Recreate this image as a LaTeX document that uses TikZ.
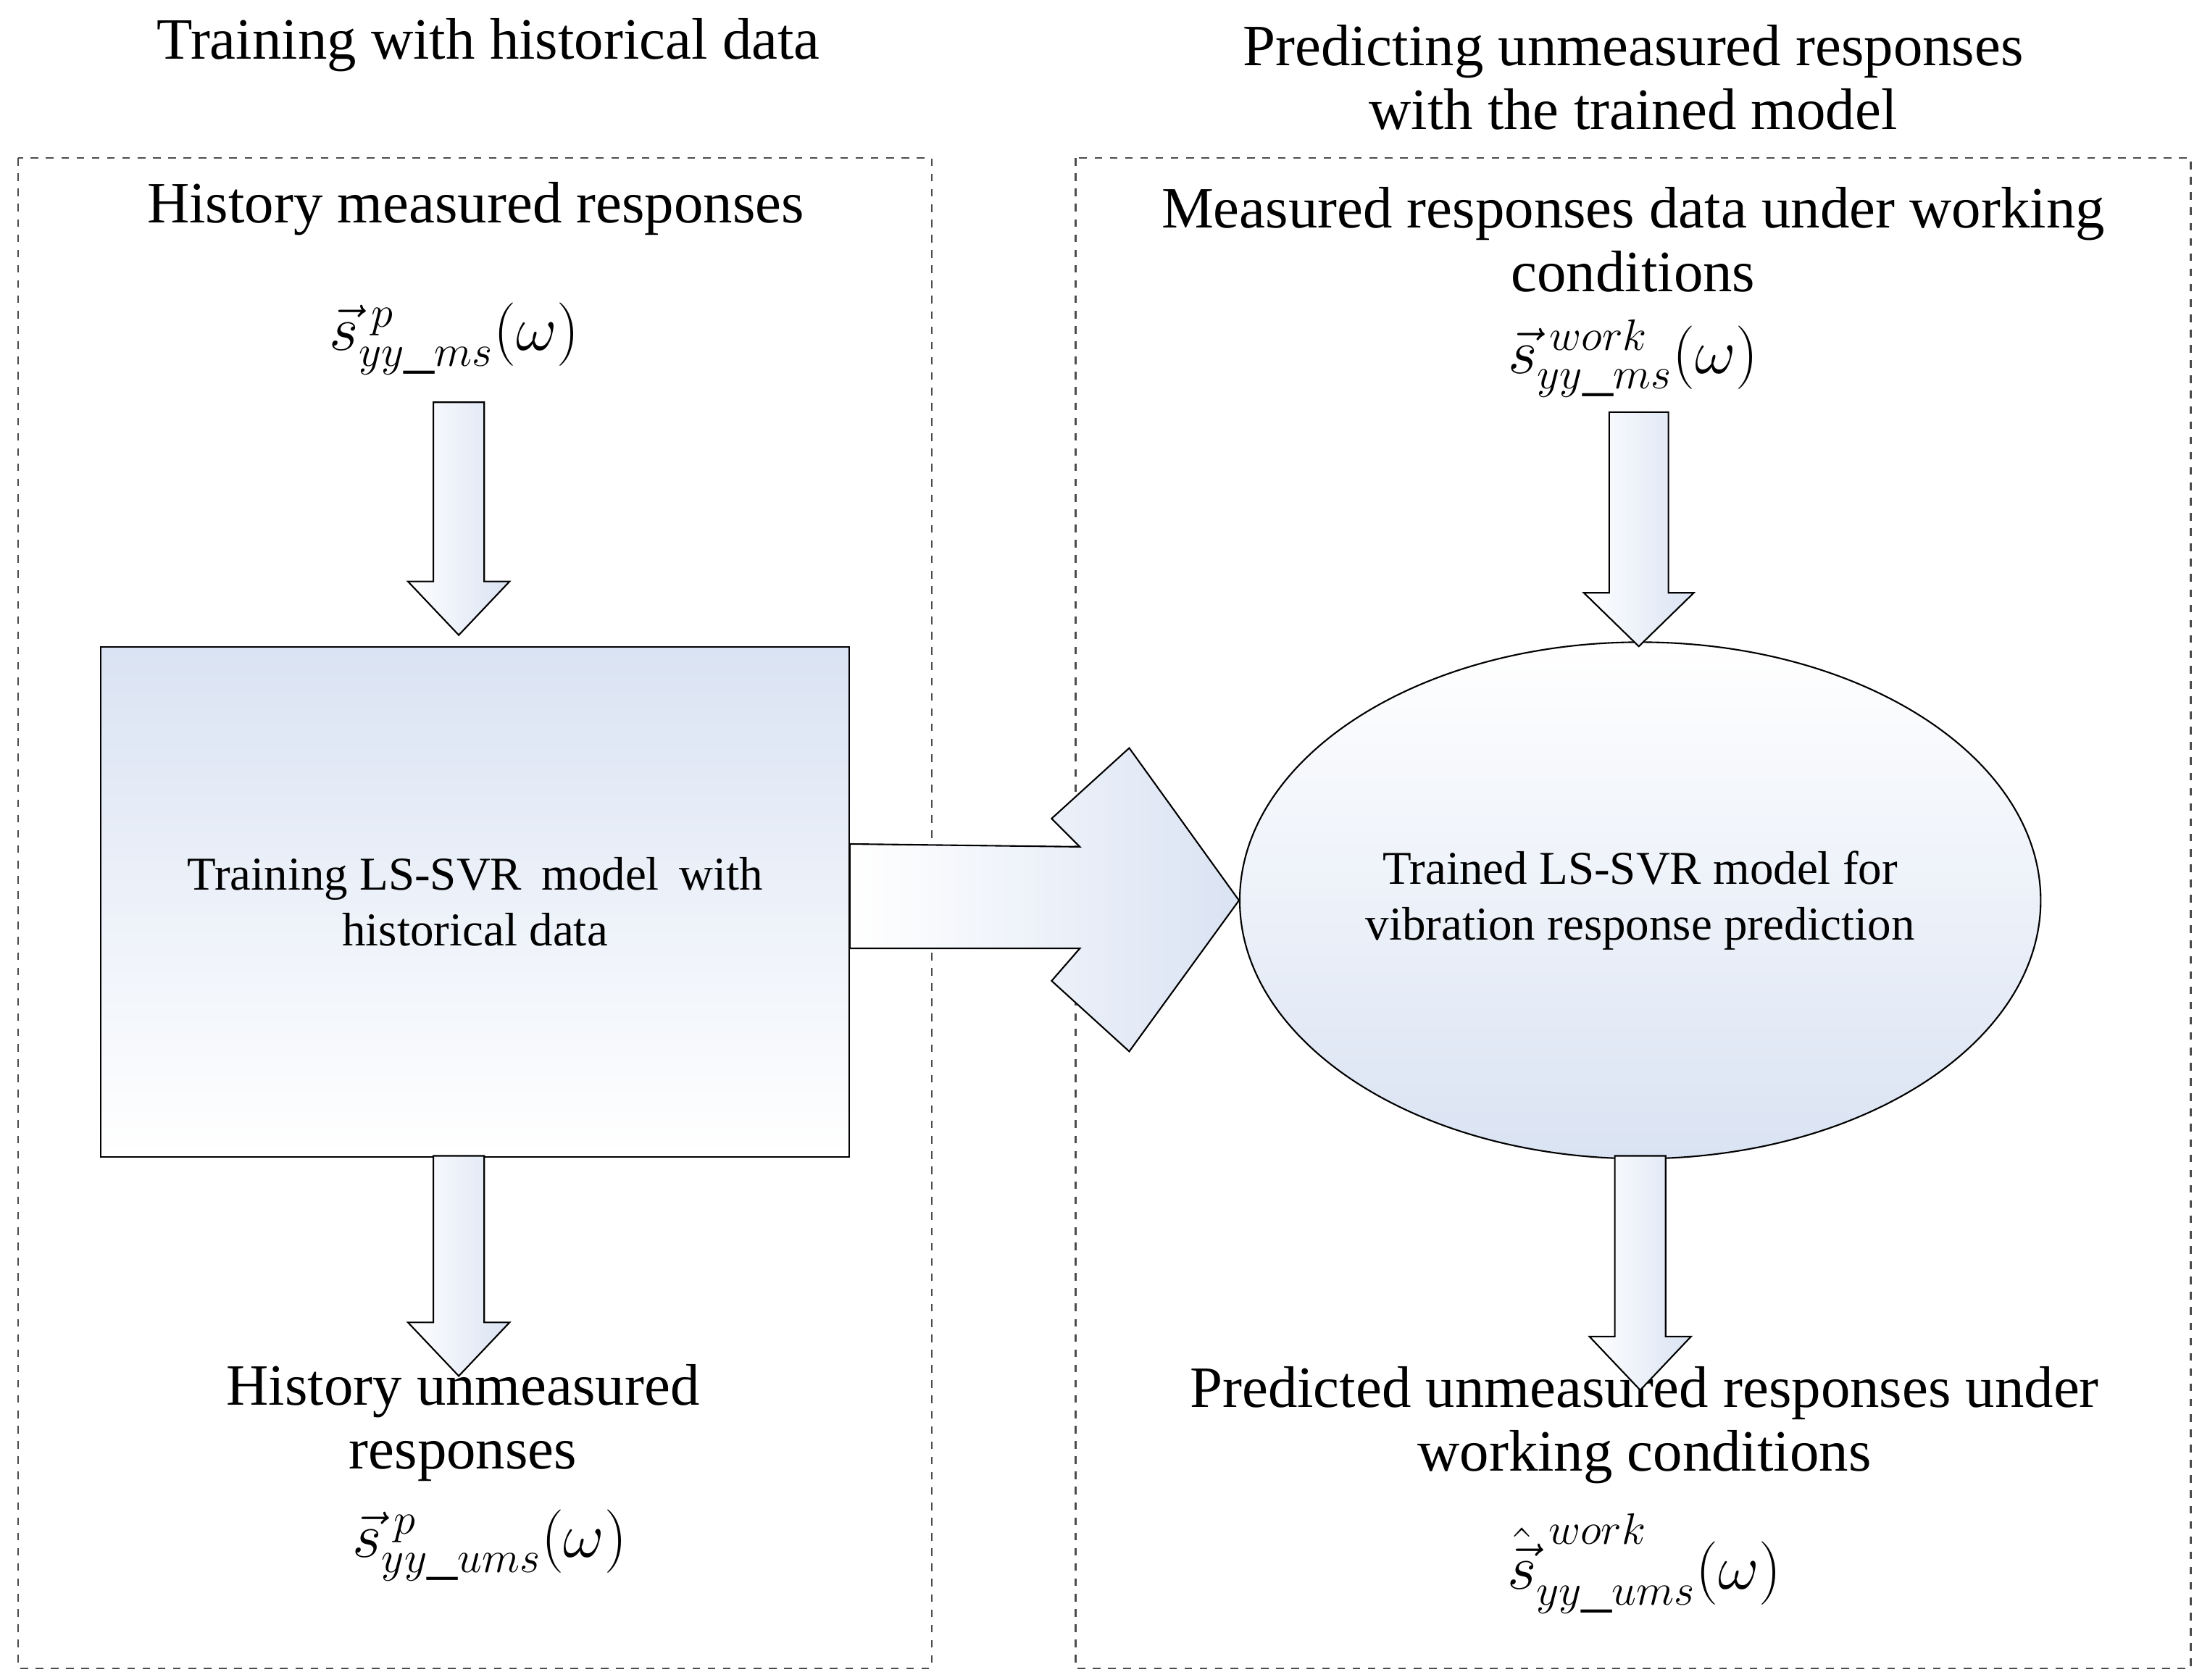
\documentclass[tikz,border=0pt]{standalone}
\usepackage{fontspec}
\setmainfont{Liberation Serif}
\usetikzlibrary{calc,positioning,shapes.geometric}
\definecolor{paleblue}{RGB}{218,227,243}
\begin{document}
\begin{tikzpicture}[x=0.01948cm,y=-0.01948cm]
	\tikzset{
		frame/.style={draw=black!70, dashed, line width=0.6pt},
		title/.style={font=\fontsize{23}{27}\selectfont, align=center},
		inner/.style={font=\fontsize{18.5}{22}\selectfont, align=center},
		mathlbl/.style={font=\fontsize{24}{28}\selectfont},
		fatarrow/.style={draw=black, line width=0.6pt, left color=white, right color=paleblue}
	}
	\newcommand{\fatdown}[4]{% x, shaft half width, top y, tip y
		\filldraw[fatarrow] (#1-#2,#3) -- (#1+#2,#3) -- (#1+#2,#4-38) -- (#1+#2+18,#4-38)
			-- (#1,#4) -- (#1-#2-18,#4-38) -- (#1-#2,#4-38) -- cycle;}
	\useasboundingbox (0,0) rectangle (1560,1190);

	% frames
	\draw[frame] (13,112) rectangle (660,1182);
	\draw[frame] (762,112) rectangle (1552,1182);

	% titles
	\node[title] (tleft) at (346,32) {Training with historical data};
	\node[title] (tright) at (1157,55) {Predicting unmeasured responses\\[-2pt]with the trained model};

	% model nodes
	\node[draw, line width=0.6pt, top color=paleblue, bottom color=white, minimum width=530*0.01948cm,
		minimum height=361*0.01948cm, inner, anchor=north west] (train) at (71,458)
		{Training LS-SVR\, model\, with\\historical data};
	\node[draw, ellipse, line width=0.6pt, top color=white, bottom color=paleblue, minimum width=550*0.01948cm,
		minimum height=366*0.01948cm, inner] (pred) at (1162,638)
		{Trained LS-SVR model for\\vibration response prediction};

	% labels
	\node[title] (hms) at (337,148) {History measured responses};
	\node[mathlbl] (sms) at (322,240) {$\vec{s}^{\;p}_{yy\_ms}(\omega)$};
	\node[title] (mwork) at (1157,170) {Measured responses data under working\\[-2pt]conditions};
	\node[mathlbl] (swork) at (1157,254) {$\vec{s}^{\;work}_{yy\_ms}(\omega)$};
	\node[title] (hums) at (328,1008) {History unmeasured\\[-2pt]responses};
	\node[mathlbl] (sums) at (347,1095) {$\vec{s}^{\;p}_{yy\_ums}(\omega)$};
	\node[title] (pums) at (1165,1010) {Predicted unmeasured responses under\\[-2pt]working conditions};
	\node[mathlbl] (spred) at (1165,1108) {$\hat{\vec{s}}^{\;work}_{yy\_ums}(\omega)$};

	% fat arrows
	\fatdown{325}{18}{285}{450}
	\fatdown{1161}{21}{292}{458}
	\fatdown{325}{18}{819}{975}
	\fatdown{1162}{18}{819}{985}

	\filldraw[fatarrow] (train.east |- 0,598) -- (765,600) -- (745,580) -- (800,530) -- (pred.west)
		-- (800,745) -- (745,695) -- (765,672) -- (train.east |- 0,672) -- cycle;
\end{tikzpicture}
\end{document}
